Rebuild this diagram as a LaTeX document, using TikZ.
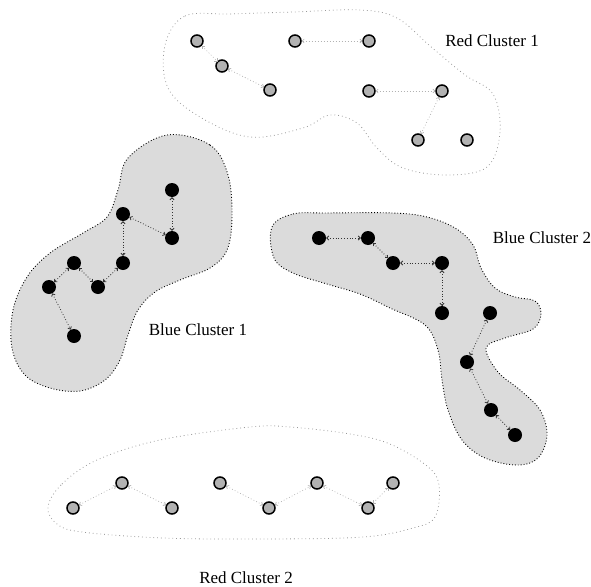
\documentclass[tikz,border=0pt]{standalone}
\usepackage{fontspec}
\setmainfont{Liberation Serif}
\usepackage{tikz}
\usetikzlibrary{arrows.meta}

\begin{document}
\begin{tikzpicture}[x=1pt,y=-1pt,
    rednode/.style={circle,draw=black,line width=1.5pt,fill=gray!60,minimum size=12pt,inner sep=0pt},
    bluenode/.style={circle,fill=black,minimum size=14pt,inner sep=0pt},
    redlink/.style={draw=gray!60,dash pattern=on 0.8pt off 2.2pt,line width=0.7pt,{Straight Barb[length=2pt,width=4pt]}-{Straight Barb[length=2pt,width=4pt]}},
    bluelink/.style={draw=black!80,dotted,line width=0.8pt,{Straight Barb[length=2pt,width=4pt]}-{Straight Barb[length=2pt,width=4pt]}},
    redhull/.style={draw=gray!80,dash pattern=on 0.8pt off 3pt,line width=0.8pt},
    bluehull/.style={draw=black,fill=gray!28,dotted,line width=0.9pt},
    label/.style={font=\fontsize{17}{20}\selectfont}]
    % Fix the size of the page
    \useasboundingbox (0,0) rectangle (591,586);

    % Outlines of the four clusters
    \draw[redhull] plot[smooth cycle,tension=0.6] coordinates {
        (165,45) (185,16) (230,14) (293,12) (360,10) (397,18) (430,46) (465,75)
        (493,94) (500,132) (487,167) (447,175) (403,168) (377,148) (357,123)
        (330,115) (303,128) (250,137) (200,117) (168,88)};
    \filldraw[bluehull] plot[smooth cycle,tension=0.6] coordinates {
        (167,135) (210,145) (228,175) (232,217) (227,250) (210,268) (180,280)
        (155,292) (138,310) (128,335) (120,360) (105,380) (80,391) (50,388)
        (25,375) (12,348) (13,310) (27,277) (50,253) (83,233) (107,217)
        (118,190) (128,158)};
    \filldraw[bluehull] plot[smooth cycle,tension=0.6] coordinates {
        (272,227) (293,214) (327,213) (393,213) (427,217) (455,228) (473,245)
        (481,268) (495,288) (515,297) (535,301) (541,314) (533,329) (505,338)
        (486,348) (498,372) (520,390) (540,410) (547,435) (538,458) (517,465)
        (485,458) (462,440) (448,410) (442,380) (438,350) (425,325) (390,308)
        (360,294) (327,284) (293,273) (274,258)};
    \draw[redhull] plot[smooth cycle,tension=0.6] coordinates {
        (48,507) (62,484) (97,460) (160,440) (250,427) (290,427) (350,434)
        (390,444) (427,466) (439,485) (435,517) (413,528) (363,537) (263,539)
        (163,538) (82,532) (57,524)};

    % Red cluster 1
    \node[rednode] (r1) at (197,41) {};
    \node[rednode] (r2) at (222,66) {};
    \node[rednode] (r3) at (270,90) {};
    \node[rednode] (r4) at (295,41) {};
    \node[rednode] (r5) at (369,41) {};
    \node[rednode] (r6) at (369,91) {};
    \node[rednode] (r7) at (442,91) {};
    \node[rednode] (r8) at (418,140) {};
    \node[rednode] (r9) at (467,140) {};
    \draw[redlink] (r1) -- (r2);
    \draw[redlink] (r2) -- (r3);
    \draw[redlink] (r4) -- (r5);
    \draw[redlink] (r6) -- (r7);
    \draw[redlink] (r7) -- (r8);

    % Blue cluster 1
    \node[bluenode] (b1) at (172,190) {};
    \node[bluenode] (b2) at (123,214) {};
    \node[bluenode] (b3) at (172,238) {};
    \node[bluenode] (b4) at (123,263) {};
    \node[bluenode] (b5) at (74,263) {};
    \node[bluenode] (b6) at (98,287) {};
    \node[bluenode] (b7) at (49,287) {};
    \node[bluenode] (b8) at (74,336) {};
    \draw[bluelink] (b1) -- (b3);
    \draw[bluelink] (b2) -- (b3);
    \draw[bluelink] (b2) -- (b4);
    \draw[bluelink] (b4) -- (b6);
    \draw[bluelink] (b5) -- (b6);
    \draw[bluelink] (b5) -- (b7);
    \draw[bluelink] (b7) -- (b8);

    % Blue cluster 2
    \node[bluenode] (c1) at (319,238) {};
    \node[bluenode] (c2) at (368,238) {};
    \node[bluenode] (c3) at (393,263) {};
    \node[bluenode] (c4) at (442,263) {};
    \node[bluenode] (c5) at (442,313) {};
    \node[bluenode] (c6) at (490,313) {};
    \node[bluenode] (c7) at (467,362) {};
    \node[bluenode] (c8) at (491,410) {};
    \node[bluenode] (c9) at (515,435) {};
    \draw[bluelink] (c1) -- (c2);
    \draw[bluelink] (c2) -- (c3);
    \draw[bluelink] (c3) -- (c4);
    \draw[bluelink] (c4) -- (c5);
    \draw[bluelink] (c6) -- (c7);
    \draw[bluelink] (c7) -- (c8);
    \draw[bluelink] (c8) -- (c9);

    % Red cluster 2
    \node[rednode] (d1) at (73,508) {};
    \node[rednode] (d2) at (122,483) {};
    \node[rednode] (d3) at (172,508) {};
    \node[rednode] (d4) at (220,483) {};
    \node[rednode] (d5) at (269,508) {};
    \node[rednode] (d6) at (317,483) {};
    \node[rednode] (d7) at (368,508) {};
    \node[rednode] (d8) at (393,483) {};
    \draw[redlink] (d1) -- (d2);
    \draw[redlink] (d2) -- (d3);
    \draw[redlink] (d4) -- (d5);
    \draw[redlink] (d5) -- (d6);
    \draw[redlink] (d6) -- (d7);
    \draw[redlink] (d7) -- (d8);

    % Cluster names
    \node[label] (lr1) at (492,41) {Red Cluster 1};
    \node[label] (lb1) at (198,330) {Blue Cluster 1};
    \node[label] (lb2) at (542,238) {Blue Cluster 2};
    \node[label] (lr2) at (246,578) {Red Cluster 2};
\end{tikzpicture}
\end{document}
